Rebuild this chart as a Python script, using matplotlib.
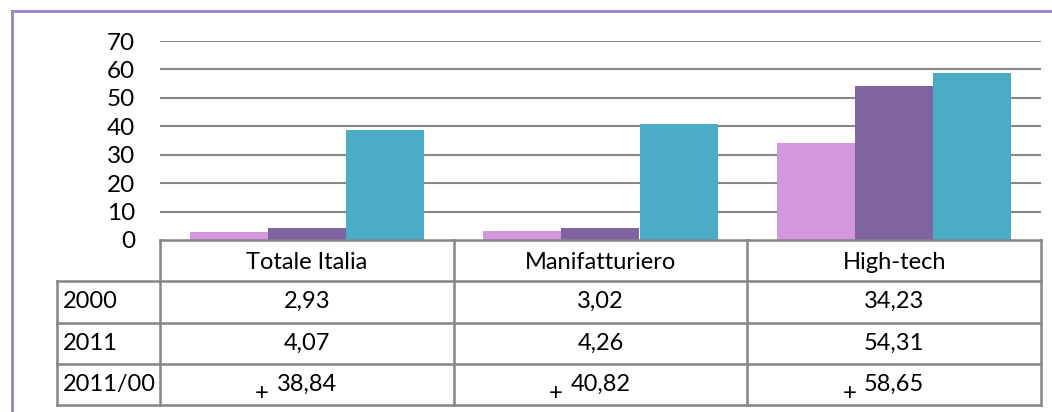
import matplotlib
matplotlib.use("Agg")
import matplotlib.pyplot as plt
from matplotlib.lines import Line2D
import numpy as np

categories = ["Totale Italia", "Manifatturiero", "High-tech"]
series_names = ["2000", "2011", "2011/00"]
values_2000 = [2.93, 3.02, 34.23]
values_2011 = [4.07, 4.26, 54.31]
values_ratio = [38.84, 40.82, 58.65]
table_text_2000 = ["2,93", "3,02", "34,23"]
table_text_2011 = ["4,07", "4,26", "54,31"]
table_text_ratio = ["38,84", "40,82", "58,65"]
yticks = [0, 10, 20, 30, 40, 50, 60, 70]

colors = ["#D396DF", "#8064A2", "#4BACC6"]
grid_color = "#878787"
FONT = "Lato"

W, H = 1052, 412
fig = plt.figure(figsize=(W / 100, H / 100), dpi=100)
fig.patch.set_facecolor("white")

def fx(px):
    return px / W

def fy(py):
    return 1 - py / H

# border (left and top only visible)
fig.add_artist(Line2D([fx(12), fx(12)], [fy(11), fy(412)], color="#9A84C2", lw=2.0, transform=fig.transFigure))
fig.add_artist(Line2D([fx(12), fx(1052)], [fy(11), fy(11)], color="#9A84C2", lw=2.0, transform=fig.transFigure))

# bar axes
left, right = 160, 1041
top0, bottom0 = 41, 240
ax = fig.add_axes([fx(left), fy(bottom0), fx(right - left), (bottom0 - top0) / H])
ax.set_xlim(0, 3)
ax.set_ylim(0, 70)
for s in ax.spines.values():
    s.set_visible(False)
ax.set_xticks([])
ax.set_yticks(yticks)
ax.set_yticklabels([str(t) for t in yticks], fontsize=17.5, family=FONT)
ax.tick_params(axis="y", length=0, pad=18)
for t in yticks[1:]:
    ax.axhline(t, color=grid_color, lw=1.5, zorder=0)

x = np.arange(3) + 0.5
bw = 78 / ((right - left) / 3)
for i, vals in enumerate([values_2000, values_2011, values_ratio]):
    ax.bar(x + (i - 1) * bw, vals, width=bw, color=colors[i], zorder=2, linewidth=0)

# table axes
tleft, tbot = 57, 405
lab_units = (left - tleft) / ((right - left) / 3)
tax = fig.add_axes([fx(tleft), fy(tbot), fx(right - tleft), (tbot - bottom0) / H])
tax.set_xlim(-lab_units, 3)
tax.set_ylim(4, 0)
tax.axis("off")

lc = "#858585"
lw = 1.8
tax.plot([0, 3], [0, 0], color=lc, lw=lw, solid_capstyle="projecting", clip_on=False)
for r in [1, 2, 3, 4]:
    tax.plot([-lab_units, 3], [r, r], color=lc, lw=lw, solid_capstyle="projecting", clip_on=False)
tax.plot([-lab_units, -lab_units], [1, 4], color=lc, lw=lw, clip_on=False)
for c in [0, 1, 2, 3]:
    tax.plot([c, c], [0, 4], color=lc, lw=lw, clip_on=False)

fs = 17
for i, cat in enumerate(categories):
    tax.text(i + 0.5, 0.5, cat, ha="center", va="center_baseline", fontsize=fs, family=FONT)
rows = [table_text_2000, table_text_2011, table_text_ratio]
for r, (name, row) in enumerate(zip(series_names, rows)):
    tax.text(-lab_units + 0.02, r + 1.45, name, ha="left", va="center_baseline", fontsize=fs, family=FONT)
    for i, txt in enumerate(row):
        tax.text(i + 0.5, r + 1.45, txt, ha="center", va="center_baseline", fontsize=fs, family=FONT)
        if r == 2:
            tax.annotate("+", xy=(i + 0.5, r + 1.45), xytext=(-45, -9), textcoords="offset pixels",
                         ha="center", va="center_baseline", fontsize=fs, family=FONT)

fig.savefig("out.png", dpi=100, facecolor="white")
